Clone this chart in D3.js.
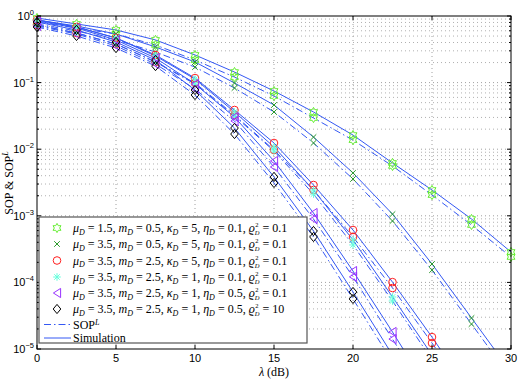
<!DOCTYPE html>
<html><head><meta charset="utf-8">
<script src="https://cdn.jsdelivr.net/npm/d3@7"></script>
<style>body{margin:0;background:#fff}svg{display:block}text{white-space:pre}</style>
</head><body>
<svg id="c" width="526" height="379"></svg>
<script>
// ---------------- data ----------------
const lambdaDb = [0, 2.5, 5, 7.5, 10, 12.5, 15, 17.5, 20, 22.5, 25, 27.5, 30];
const xTicks = [0, 5, 10, 15, 20, 25, 30];
const yDecades = [1e0, 1e-1, 1e-2, 1e-3, 1e-4, 1e-5];
const yTickExp = ["0", "−1", "−2", "−3", "−4", "−5"];

// simulation (solid) and SOP^L (dash-dot) per case
const sim1 = [0.933, 0.759, 0.617, 0.437, 0.260, 0.144, 0.0748, 0.0362, 0.0163, 0.00621, 0.00244, 0.000895, 0.000286];
const sopL1 = [0.813, 0.661, 0.537, 0.367, 0.218, 0.121, 0.0629, 0.0294, 0.0137, 0.00560, 0.00205, 0.000728, 0.000241];
const sim2 = [0.871, 0.708, 0.537, 0.343, 0.204, 0.0986, 0.0461, 0.0152, 0.00440, 0.00106, 0.000189, 0.0000292, 0.00000452];
const sopL2 = [0.759, 0.596, 0.437, 0.288, 0.171, 0.0830, 0.0362, 0.0124, 0.00357, 0.000836, 0.000153, 0.0000237, 0.00000367];
const sim3 = [0.871, 0.684, 0.468, 0.260, 0.117, 0.0388, 0.0124, 0.00290, 0.000612, 0.000101, 0.0000151, 0.00000204];
const sopL3 = [0.733, 0.556, 0.380, 0.204, 0.0986, 0.0326, 0.00973, 0.00244, 0.000481, 0.0000824, 0.0000123, 0.00000171];
const sim4 = [0.871, 0.684, 0.468, 0.251, 0.113, 0.0362, 0.0108, 0.00244, 0.000434, 0.0000604, 0.00000813, 0.00000102];
const sopL4 = [0.733, 0.556, 0.380, 0.204, 0.0953, 0.0315, 0.00940, 0.00212, 0.000365, 0.0000526, 0.00000684, 0.000000859];
const sim5 = [0.841, 0.661, 0.437, 0.234, 0.0953, 0.0304, 0.00665, 0.00110, 0.000148, 0.0000180, 0.00000204];
const sopL5 = [0.708, 0.537, 0.355, 0.190, 0.0802, 0.0265, 0.00541, 0.000895, 0.000121, 0.0000141, 0.0000016];
const sim6 = [0.813, 0.617, 0.407, 0.218, 0.0774, 0.0208, 0.00383, 0.000591, 0.0000718, 0.00000813];
const sopL6 = [0.684, 0.501, 0.331, 0.177, 0.0651, 0.0169, 0.00311, 0.000481, 0.0000564, 0.00000638];

const muD = ["1.5", "3.5", "3.5", "3.5", "3.5", "3.5"];
const mD = ["0.5", "0.5", "2.5", "2.5", "2.5", "2.5"];
const kappaD = ["5", "5", "5", "1", "1", "1"];
const etaD = ["0.1", "0.1", "0.1", "0.1", "0.5", "0.5"];
const rhoD = ["0.1", "0.1", "0.1", "0.1", "0.1", "10"];
const markerKinds = ["hexagram", "x", "circle", "asterisk", "triangleLeft", "diamond"];
const markerColors = ["#66ee33", "#2a9a2a", "#ff2020", "#66ffdd", "#9933ff", "#000000"];

const simSeries = [sim1, sim2, sim3, sim4, sim5, sim6];
const sopLSeries = [sopL1, sopL2, sopL3, sopL4, sopL5, sopL6];

// ---------------- layout ----------------
const svg = d3.select("#c");
const L = 37, R = 511, T = 16, B = 349;
const x = d3.scaleLinear().domain([0, 30]).range([L, R]);
const y = d3.scaleLog().domain([1e-5, 1]).range([B, T]);
const lineBlue = "#3458f4";
const tickFont = "'Liberation Sans', Arial, sans-serif";
const serif = "'Liberation Serif', 'DejaVu Serif', serif";

// grid
const minor = [];
for (let e = -5; e < 0; e++) for (let k = 2; k <= 9; k++) minor.push(k * Math.pow(10, e));
const grid = svg.append("g");
grid.selectAll("line.ym").data(minor).join("line")
  .attr("x1", L).attr("x2", R).attr("y1", d => y(d)).attr("y2", d => y(d))
  .attr("stroke", "#b0b0b0").attr("stroke-width", 1).attr("stroke-dasharray", "1,3");
grid.selectAll("line.yM").data(yDecades.slice(1, 5)).join("line")
  .attr("x1", L).attr("x2", R).attr("y1", d => y(d)).attr("y2", d => y(d))
  .attr("stroke", "#a0a0a0").attr("stroke-width", 1).attr("stroke-dasharray", "1,3");
grid.selectAll("line.x").data(xTicks.slice(1, 6)).join("line")
  .attr("x1", d => x(d)).attr("x2", d => x(d)).attr("y1", T).attr("y2", B)
  .attr("stroke", "#a0a0a0").attr("stroke-width", 1).attr("stroke-dasharray", "1,3");

// clip
svg.append("clipPath").attr("id", "clip").append("rect")
  .attr("x", L).attr("y", T).attr("width", R - L).attr("height", B - T);
svg.append("clipPath").attr("id", "clipY").append("rect")
  .attr("x", 0).attr("y", T - 6).attr("width", 526).attr("height", B - T + 6);

const line = d3.line().x((d, i) => x(lambdaDb[i])).y(d => y(d));
const curves = svg.append("g").attr("clip-path", "url(#clip)");
sopLSeries.forEach(s => curves.append("path").attr("d", line(s)).attr("fill", "none")
  .attr("stroke", lineBlue).attr("stroke-width", 1).attr("stroke-dasharray", "7,3,1.5,3"));
simSeries.forEach(s => curves.append("path").attr("d", line(s)).attr("fill", "none")
  .attr("stroke", lineBlue).attr("stroke-width", 1));

// markers
function markerPath(kind) {
  const p = d3.path();
  if (kind === "hexagram") {
    const Ro = 4.6, Ri = Ro / Math.sqrt(3);
    for (let i = 0; i < 12; i++) {
      const a = -Math.PI / 2 + i * Math.PI / 6, r = i % 2 ? Ri : Ro;
      i ? p.lineTo(r * Math.cos(a), r * Math.sin(a)) : p.moveTo(r * Math.cos(a), r * Math.sin(a));
    }
    p.closePath();
  } else if (kind === "x") {
    const s = 2.8; p.moveTo(-s, -s); p.lineTo(s, s); p.moveTo(-s, s); p.lineTo(s, -s);
  } else if (kind === "circle") {
    p.arc(0, 0, 3.8, 0, 2 * Math.PI);
  } else if (kind === "asterisk") {
    const s = 3.8, t = s * 0.72;
    p.moveTo(-s, 0); p.lineTo(s, 0); p.moveTo(0, -s); p.lineTo(0, s);
    p.moveTo(-t, -t); p.lineTo(t, t); p.moveTo(-t, t); p.lineTo(t, -t);
  } else if (kind === "triangleLeft") {
    p.moveTo(-3.6, 0); p.lineTo(3.6, -4.6); p.lineTo(3.6, 4.6); p.closePath();
  } else if (kind === "diamond") {
    p.moveTo(0, -4.6); p.lineTo(3.8, 0); p.lineTo(0, 4.6); p.lineTo(-3.8, 0); p.closePath();
  }
  return p.toString();
}
const marks = svg.append("g").attr("clip-path", "url(#clipY)");
[sopLSeries, simSeries].forEach(group => group.forEach((s, k) => {
  marks.selectAll(null).data(s.filter(v => v >= 1e-5).map((v, i) => [lambdaDb[i], v])).join("path")
    .attr("transform", d => `translate(${x(d[0])},${y(d[1])})`)
    .attr("d", markerPath(markerKinds[k])).attr("fill", "none")
    .attr("stroke", markerColors[k]).attr("stroke-width", 1);
}));

// axes box and ticks
const ax = svg.append("g").attr("stroke", "#000").attr("stroke-width", 1);
ax.append("rect").attr("x", L).attr("y", T).attr("width", R - L).attr("height", B - T).attr("fill", "none");
xTicks.forEach(t => {
  ax.append("line").attr("x1", x(t)).attr("x2", x(t)).attr("y1", B).attr("y2", B - 4);
  ax.append("line").attr("x1", x(t)).attr("x2", x(t)).attr("y1", T).attr("y2", T + 4);
});
yDecades.forEach(t => {
  ax.append("line").attr("x1", L).attr("x2", L + 4).attr("y1", y(t)).attr("y2", y(t));
  ax.append("line").attr("x1", R).attr("x2", R - 4).attr("y1", y(t)).attr("y2", y(t));
});
minor.forEach(t => {
  ax.append("line").attr("x1", L).attr("x2", L + 2).attr("y1", y(t)).attr("y2", y(t));
  ax.append("line").attr("x1", R).attr("x2", R - 2).attr("y1", y(t)).attr("y2", y(t));
});

// tick labels
xTicks.forEach(t => svg.append("text").attr("x", x(t)).attr("y", 362)
  .attr("text-anchor", "middle").attr("font-family", tickFont).attr("font-size", 11).text(t));
yDecades.forEach((t, i) => {
  const tx = svg.append("text").attr("x", 34).attr("y", y(t) + 4)
    .attr("text-anchor", "end").attr("font-family", tickFont).attr("font-size", 11);
  tx.append("tspan").text("10");
  tx.append("tspan").attr("dy", -5).attr("font-size", 7.5).text(yTickExp[i]);
});

// axis labels
const xl = svg.append("text").attr("x", x(15)).attr("y", 376).attr("text-anchor", "middle")
  .attr("font-family", serif).attr("font-size", 12);
xl.append("tspan").attr("font-style", "italic").text("λ");
xl.append("tspan").text(" (dB)");
const yl = svg.append("text").attr("transform", "translate(13,183) rotate(-90)")
  .attr("text-anchor", "middle").attr("font-family", serif).attr("font-size", 12);
yl.append("tspan").text("SOP & SOP");
yl.append("tspan").attr("dy", -5).attr("font-size", 8).attr("font-style", "italic").text("L");

// legend
const lg = svg.append("g");
lg.append("rect").attr("x", 39).attr("y", 217).attr("width", 268).attr("height", 126)
  .attr("fill", "#fff").attr("stroke", "#555").attr("stroke-width", 1.2);
const rowY = [228, 244, 260.5, 277, 293, 309, 324.5, 338];
const FS = 12, SFS = 8;
function piece(xp, yp, str, size, italic) {
  const t = lg.append("text").attr("x", xp).attr("y", yp).attr("font-family", serif)
    .attr("font-size", size).attr("font-style", italic ? "italic" : "normal")
    .attr("xml:space", "preserve").text(str);
  return t.node().getComputedTextLength();
}
for (let k = 0; k < 6; k++) {
  lg.append("path").attr("transform", `translate(57,${rowY[k]})`).attr("d", markerPath(markerKinds[k]))
    .attr("fill", "none").attr("stroke", markerColors[k]).attr("stroke-width", 1);
  const base = rowY[k] + 4;
  let cx = 73;
  const syms = [["μ", muD[k]], ["m", mD[k]], ["κ", kappaD[k]], ["η", etaD[k]]];
  syms.forEach(([s, v]) => {
    cx += piece(cx, base, s, FS, true);
    cx += piece(cx, base + 2.5, "D", SFS, true);
    cx += piece(cx, base, " = " + v + ", ", FS, false);
  });
  cx += piece(cx, base, "ϱ", FS, true);
  const w2 = piece(cx + 0.5, base - 4.6, "2", 6.5, false);
  const wD = piece(cx, base + 3.2, "D", 6.5, true);
  cx += Math.max(w2, wD);
  piece(cx, base, " = " + rhoD[k], FS, false);
}
lg.append("line").attr("x1", 44).attr("x2", 71).attr("y1", rowY[6]).attr("y2", rowY[6])
  .attr("stroke", lineBlue).attr("stroke-dasharray", "7,3,1.5,3");
lg.append("line").attr("x1", 44).attr("x2", 71).attr("y1", rowY[7]).attr("y2", rowY[7])
  .attr("stroke", lineBlue);
const wS = piece(73, rowY[6] + 4, "SOP", FS, false);
piece(73 + wS, rowY[6], "L", SFS, true);
piece(73, rowY[7] + 4, "Simulation", FS, false);
</script>
</body></html>
